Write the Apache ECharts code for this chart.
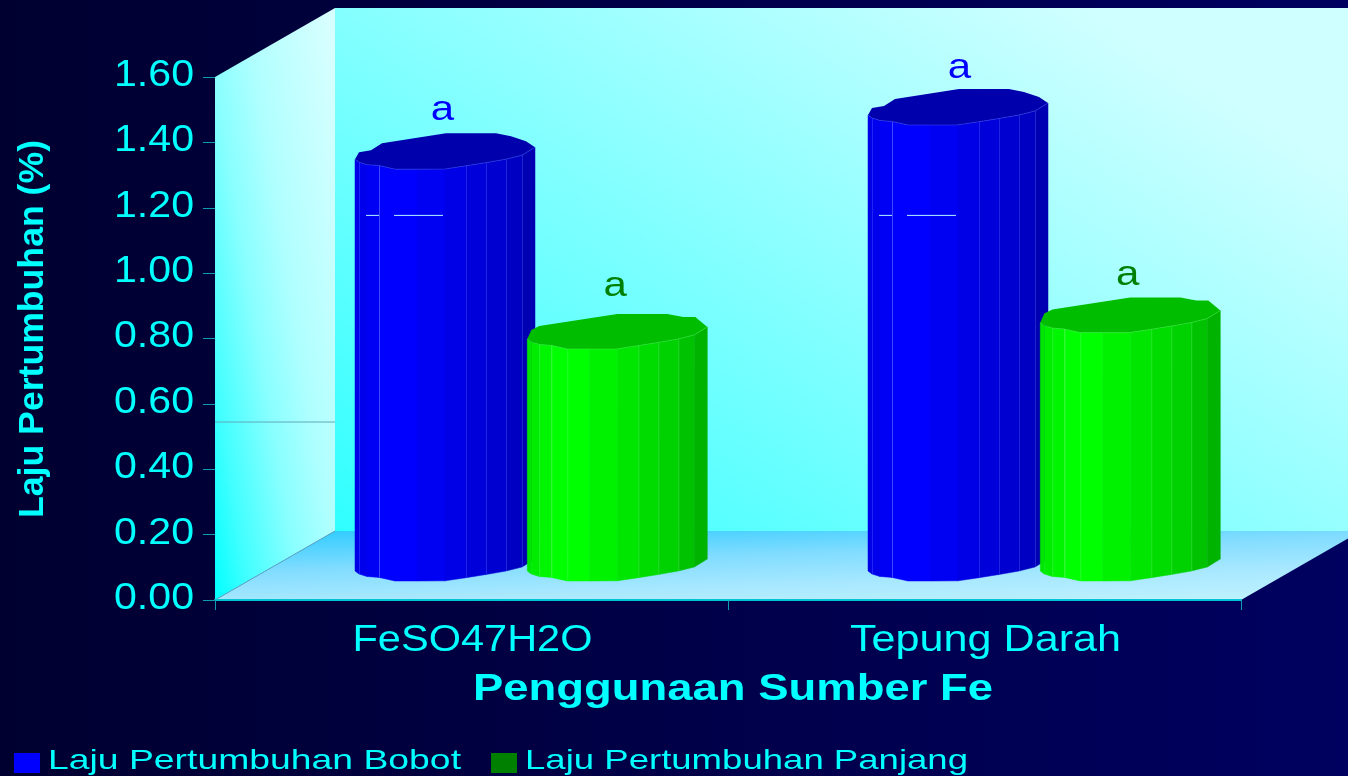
<!DOCTYPE html>
<html>
<head>
<meta charset="utf-8">
<title>Laju Pertumbuhan</title>
<style>html,body{margin:0;padding:0;background:#000033}#chart{width:1348px;height:776px}</style>
<script src="https://cdn.jsdelivr.net/npm/echarts@6/dist/echarts.min.js"></script>
</head>
<body>
<div id="chart"></div>
<script>
// Chart data
const categories = ['FeSO47H2O', 'Tepung Darah'];
const bobotValues = [1.26, 1.395];
const panjangValues = [0.71, 0.76];
const bobotLetters = ['a', 'a'];
const panjangLetters = ['a', 'a'];
const yTickValues = [0, 0.2, 0.4, 0.6, 0.8, 1.0, 1.2, 1.4, 1.6];
const yTickLabels = ['0.00', '0.20', '0.40', '0.60', '0.80', '1.00', '1.20', '1.40', '1.60'];
const seriesNames = ['Laju Pertumbuhan Bobot', 'Laju Pertumbuhan Panjang'];

// Box depth of the pseudo-3D plot area
const DEPTH_X = 120, DEPTH_Y = 69;
// Bars stand halfway into the box
const BAR_WIDTH = 180, BAR_LEFT = [-116.5, 55.8], BAR_LIFT = 19;

// Prism cross-section: [offset along bar width, rise above the front edge]
const frontProfile = [[0,10],[4,7],[12,4.5],[24,3.6],[40,0],[89,0],[111,3.3],[131,6.5],[151,10],[167,14],[180,22]];
const capRim = [
  [[171,28],[156,33],[141,36],[91,36],[27,26],[16,19],[4,17]],
  [[168,32],[156,32],[140,35],[90,35],[12,23],[4,19]]
];
const facetEdges = [0,4,12,24,40,62,90,111,131,151,167,180];
const facetShades = [0.90,0.93,0.96,1,1,0.95,0.90,0.86,0.82,0.76,0.70];
const edgeLines = [[4, 24, 111, 131, 151, 167], [12, 24, 40, 111, 131, 151]];
const palette = [
  { rgb: c => `rgb(0,0,${c})`, cap: '#0000ad', edge: '#4a5cff', letter: '#0000ff', swatch: '#0000ff' },
  { rgb: c => `rgb(0,${c},0)`, cap: '#00bd00', edge: '#55f055', letter: '#008000', swatch: '#008000' }
];
const CYAN = '#00ffff';
// Placement of the significance letters above each bar
const letterLift = [[59, 57], [63, 57]];
const letterAcross = [[87.5, 91.5], [88, 87.5]];

function rise(dx) {
  for (let i = 1; i < frontProfile.length; i++) {
    const a = frontProfile[i - 1], b = frontProfile[i];
    if (dx <= b[0]) return a[1] + (b[1] - a[1]) * (dx - a[0]) / (b[0] - a[0]);
  }
  return frontProfile[frontProfile.length - 1][1];
}

// Stretch factor so a string spans a given pixel width
const measure = document.createElement('canvas').getContext('2d');
function stretch(text, font, width) {
  measure.font = font;
  return width / measure.measureText(text).width;
}

const FONT_TICK = '36px "Liberation Sans"';
const FONT_TITLE = 'bold 36px "Liberation Sans"';
const FONT_LEGEND = '28px "Liberation Sans"';

function pixelGradient(x, y, x2, y2, stops) {
  return new echarts.graphic.LinearGradient(x, y, x2, y2, stops, true);
}

function renderBox(params, api) {
  const g = params.coordSys;
  const x0 = g.x, x1 = g.x + g.width, yb = g.y + g.height, yt = g.y;
  const bx = x0 + DEPTH_X, by = yb - DEPTH_Y;
  const wallLine = api.coord([0, 0.546]);
  return {
    type: 'group',
    children: [
      { type: 'polygon', shape: { points: [[bx, yt - DEPTH_Y], [x1 + DEPTH_X, yt - DEPTH_Y], [x1 + DEPTH_X, by], [bx, by]] },
        style: { fill: pixelGradient(bx, by, bx + 581, by - 930, [{ offset: 0, color: '#30ffff' }, { offset: 0.77, color: '#d0ffff' }, { offset: 1, color: '#d0ffff' }]) } },
      { type: 'polygon', shape: { points: [[x0, yt], [bx, yt - DEPTH_Y], [bx, by], [x0, yb]] },
        style: { fill: pixelGradient(x0, yb, x0 + 230, yb - 38, [{ offset: 0, color: '#00ffff' }, { offset: 0.147, color: '#40ffff' }, { offset: 0.36, color: '#88ffff' }, { offset: 0.54, color: '#b0ffff' }, { offset: 0.61, color: '#b8ffff' }, { offset: 0.89, color: '#d8ffff' }, { offset: 1, color: '#d8ffff' }]) } },
      { type: 'polygon', shape: { points: [[x0, yb], [x1, yb], [x1 + DEPTH_X, by], [bx, by]] },
        style: { fill: pixelGradient(bx, by, bx + 3.5, by + 106, [{ offset: 0, color: '#33ccff' }, { offset: 0.35, color: '#80dcff' }, { offset: 0.65, color: '#a8e8ff' }, { offset: 1, color: '#c4f4ff' }]) } },
      { type: 'line', shape: { x1: x0, y1: yb, x2: bx, y2: by }, style: { stroke: '#5fa8c8', lineWidth: 1 } },
      { type: 'line', shape: { x1: x0, y1: wallLine[1] + 0.5, x2: bx, y2: wallLine[1] + 0.5 },
        style: { stroke: '#5fa8b8', lineWidth: 1 } }
    ]
  };
}

function renderBar(seriesIndex) {
  return function (params, api) {
    const cat = api.value(0), val = api.value(1);
    const base = api.coord([cat, 0]), top = api.coord([cat, val]);
    const left = base[0] + BAR_LEFT[seriesIndex];
    const yBase = base[1] - BAR_LIFT, yTop = top[1] - BAR_LIFT;
    const style = palette[seriesIndex];
    const children = [];

    facetShades.forEach((shade, i) => {
      const a = facetEdges[i], b = facetEdges[i + 1];
      const c = style.rgb(Math.round(255 * shade));
      children.push({ type: 'polygon',
        shape: { points: [[left + a, yTop - rise(a)], [left + b, yTop - rise(b)], [left + b, yBase - rise(b)], [left + a, yBase - rise(a)]] },
        style: { fill: c, stroke: c, lineWidth: 0.5 } });
    });
    edgeLines[seriesIndex].forEach(dx => {
      children.push({ type: 'line',
        shape: { x1: left + dx + 0.5, y1: yTop - rise(dx), x2: left + dx + 0.5, y2: yBase - rise(dx) },
        style: { stroke: style.edge, lineWidth: 1, opacity: dx === 24 ? 0.8 : 0.4 } });
    });

    const outline = frontProfile.map(p => [left + p[0], yTop - p[1]])
      .concat(capRim[seriesIndex].map(p => [left + p[0], yTop - p[1]]));
    children.push({ type: 'polygon', shape: { points: outline }, style: { fill: style.cap } });
    children.push({ type: 'polyline', shape: { points: frontProfile.map(p => [left + p[0], yTop - p[1]]) },
      style: { stroke: style.edge, lineWidth: 1, fill: 'none', opacity: 0.4 } });

    if (seriesIndex === 0) {
      const mark = api.coord([cat, 1.12])[1] - BAR_LIFT + 0.5;
      [[11, 24], [39, 88]].forEach(r => children.push({ type: 'line',
        shape: { x1: left + r[0], y1: mark, x2: left + r[1], y2: mark },
        style: { stroke: '#b8f4ff', lineWidth: 1 } }));
    }

    const letters = seriesIndex === 0 ? bobotLetters : panjangLetters;
    children.push({ type: 'text', x: left + letterAcross[seriesIndex][params.dataIndex],
      y: yTop - letterLift[seriesIndex][params.dataIndex], scaleX: 1.2,
      style: { text: letters[params.dataIndex], font: '35px "Liberation Sans"', fill: style.letter, align: 'center', verticalAlign: 'middle' } });
    return { type: 'group', children };
  };
}

function renderYTick(params, api) {
  const p = api.coord([0, api.value(1)]);
  const text = yTickLabels[params.dataIndex];
  return { type: 'text', x: params.coordSys.x - 21, y: p[1] - 1, scaleX: stretch(text, FONT_TICK, 80),
    style: { text, font: FONT_TICK, fill: CYAN, align: 'right', verticalAlign: 'middle' } };
}

const xLabelWidths = [240, 271];
function renderXLabel(params, api) {
  const p = api.coord([api.value(0), 0]);
  const text = categories[params.dataIndex];
  return { type: 'text', x: p[0] + 1, y: p[1] + 41, scaleX: stretch(text, FONT_TICK, xLabelWidths[params.dataIndex]),
    style: { text, font: FONT_TICK, fill: CYAN, align: 'center', verticalAlign: 'middle' } };
}

function textBlock(text, font, x, y, width, extra) {
  return Object.assign({ type: 'text', x, y, scaleX: stretch(text, font, width), silent: true, z: 20,
    style: { text, font, fill: CYAN, textAlign: 'left', textVerticalAlign: 'middle' } }, extra || {});
}

const option = {
  animation: false,
  backgroundColor: new echarts.graphic.LinearGradient(0, 0, 1, 0, [{ offset: 0, color: '#000030' }, { offset: 1, color: '#000060' }]),
  grid: { left: 215, right: 107, top: 77, bottom: 176 },
  xAxis: {
    type: 'category', data: categories, z: 5,
    axisLine: { lineStyle: { color: '#00c4d4', width: 2 } },
    axisTick: { show: true, length: 10, lineStyle: { color: '#0a9cb0', width: 1 } },
    axisLabel: { show: false }, splitLine: { show: false }
  },
  yAxis: {
    type: 'value', min: 0, max: 1.6, interval: 0.2, z: 5,
    axisLine: { show: false },
    axisTick: { show: true, length: 12, lineStyle: { color: '#0a9cb0', width: 1 } },
    axisLabel: { show: false }, splitLine: { show: false }
  },
  graphic: [
    textBlock('Penggunaan Sumber Fe', FONT_TITLE, 473, 690, 520),
    textBlock('Laju Pertumbuhan (%)', 'bold 35px "Liberation Sans"', 33, 518, 378, { rotation: Math.PI / 2 }),
    { type: 'rect', shape: { x: 14, y: 753, width: 26, height: 20 }, style: { fill: palette[0].swatch }, silent: true },
    { type: 'rect', shape: { x: 491, y: 753, width: 26, height: 20 }, style: { fill: palette[1].swatch }, silent: true },
    textBlock(seriesNames[0], FONT_LEGEND, 48, 761, 413),
    textBlock(seriesNames[1], FONT_LEGEND, 525, 761, 443)
  ],
  series: [
    { type: 'custom', name: 'box', silent: true, z: 1, clip: false, data: [[0, 0]], renderItem: renderBox },
    { type: 'custom', name: seriesNames[0], silent: true, z: 3, clip: false,
      data: bobotValues.map((v, i) => [i, v]), renderItem: renderBar(0) },
    { type: 'custom', name: seriesNames[1], silent: true, z: 4, clip: false,
      data: panjangValues.map((v, i) => [i, v]), renderItem: renderBar(1) },
    { type: 'custom', name: 'yLabels', silent: true, z: 6, clip: false,
      data: yTickValues.map(v => [0, v]), renderItem: renderYTick },
    { type: 'custom', name: 'xLabels', silent: true, z: 6, clip: false,
      data: categories.map((c, i) => [i, 0]), renderItem: renderXLabel }
  ]
};

const chart = echarts.init(document.getElementById('chart'), null, { width: 1348, height: 776 });
chart.setOption(option);
</script>
</body>
</html>
